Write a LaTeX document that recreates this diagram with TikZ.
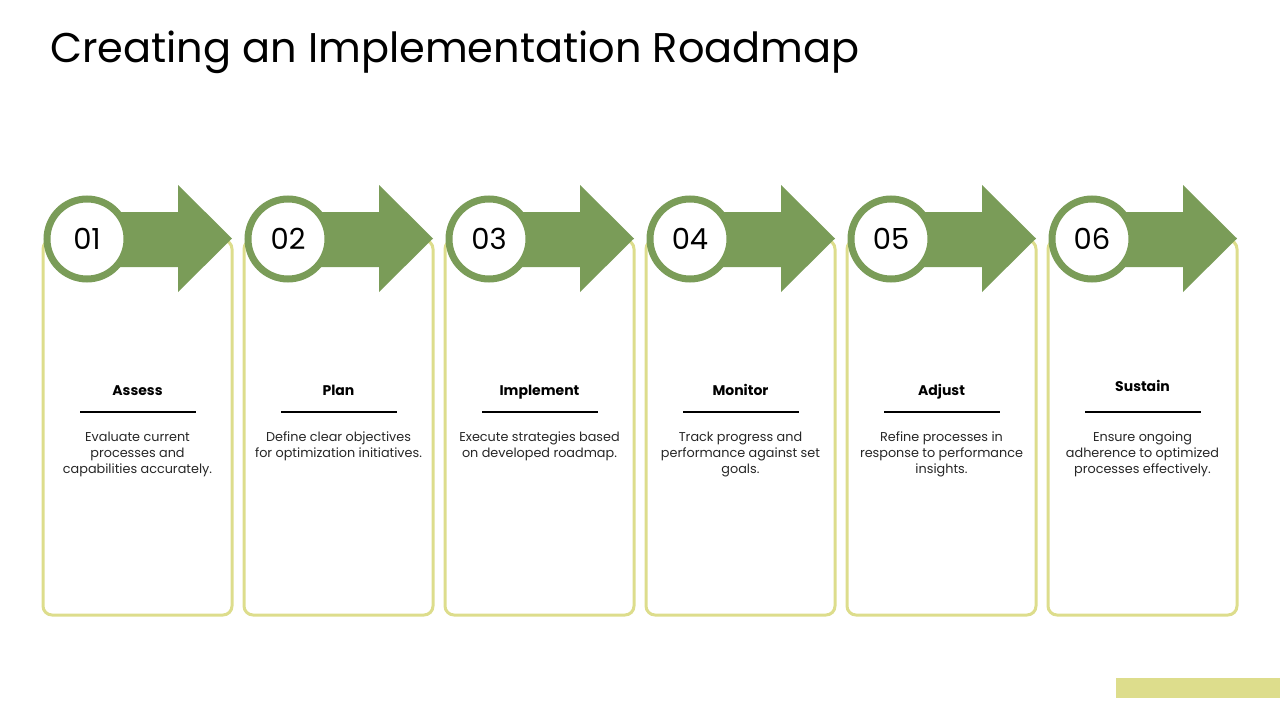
\documentclass[tikz,border=0pt]{standalone}
\usepackage{fontspec}
\setmainfont{Poppins}
\usepackage{xcolor}
\usepackage{tikz}
\usetikzlibrary{positioning}
\definecolor{leaf}{RGB}{122,156,88}
\definecolor{straw}{RGB}{221,221,140}
\tikzset{
  % --- cards -----------------------------------------------------------------
  card/.style={rectangle,draw=straw,line width=3pt,rounded corners=9pt,
               minimum width=189pt,minimum height=375pt,inner sep=0pt},
  badge/.style={circle,draw=leaf,line width=7pt,fill=white,minimum size=80pt,
                inner sep=0pt,font=\fontsize{29}{31}\selectfont},
  pointer/.style={fill=leaf},
  % --- texts -----------------------------------------------------------------
  head/.style={font=\fontsize{14}{16}\selectfont\bfseries,inner sep=0pt,
               anchor=base},
  rule/.style={line width=1.1pt,black},
  desc/.style={font=\fontsize{12.8}{16}\selectfont,align=center,inner sep=0pt,
               text=black!85,anchor=north},
  title/.style={font=\fontsize{41.5}{44}\selectfont,anchor=base west,inner sep=0pt},
}
\begin{document}
\begin{tikzpicture}[x=1pt, y=-1pt]
  \useasboundingbox (0,0) rectangle (1280,720);
  \node[title] (ttl) at (50,62) {Creating an Implementation Roadmap};

  % card 01
  \node[card] (c1) at (137.5,427.5) {};
  \fill[pointer] (87,212) -- (178,212) -- (178,185) -- (232,238.5)
                 -- (178,292) -- (178,267) -- (87,267) -- cycle;
  \node[badge] (n1) at (87,239) {01};
  \node[head] (h1) at (137.5,395) {Assess};
  \draw[rule] (80,412) -- (196,412);
  \node[desc] (d1) at (137.5,432)
    {Evaluate current\\processes and\\capabilities accurately.};

  % card 02
  \node[card] (c2) at (338.5,427.5) {};
  \fill[pointer] (288,212) -- (379,212) -- (379,185) -- (433,238.5)
                 -- (379,292) -- (379,267) -- (288,267) -- cycle;
  \node[badge] (n2) at (288,239) {02};
  \node[head] (h2) at (338.5,395) {Plan};
  \draw[rule] (281,412) -- (397,412);
  \node[desc] (d2) at (338.5,432)
    {Define clear objectives\\for optimization initiatives.};

  % card 03
  \node[card] (c3) at (539.5,427.5) {};
  \fill[pointer] (489,212) -- (580,212) -- (580,185) -- (634,238.5)
                 -- (580,292) -- (580,267) -- (489,267) -- cycle;
  \node[badge] (n3) at (489,239) {03};
  \node[head] (h3) at (539.5,395) {Implement};
  \draw[rule] (482,412) -- (598,412);
  \node[desc] (d3) at (539.5,432)
    {Execute strategies based\\on developed roadmap.};

  % card 04
  \node[card] (c4) at (740.5,427.5) {};
  \fill[pointer] (690,212) -- (781,212) -- (781,185) -- (835,238.5)
                 -- (781,292) -- (781,267) -- (690,267) -- cycle;
  \node[badge] (n4) at (690,239) {04};
  \node[head] (h4) at (740.5,395) {Monitor};
  \draw[rule] (683,412) -- (799,412);
  \node[desc] (d4) at (740.5,432)
    {Track progress and\\performance against set\\goals.};

  % card 05
  \node[card] (c5) at (941.5,427.5) {};
  \fill[pointer] (891,212) -- (982,212) -- (982,185) -- (1036,238.5)
                 -- (982,292) -- (982,267) -- (891,267) -- cycle;
  \node[badge] (n5) at (891,239) {05};
  \node[head] (h5) at (941.5,395) {Adjust};
  \draw[rule] (884,412) -- (1000,412);
  \node[desc] (d5) at (941.5,432)
    {Refine processes in\\response to performance\\insights.};

  % card 06
  \node[card] (c6) at (1142.5,427.5) {};
  \fill[pointer] (1092,212) -- (1183,212) -- (1183,185) -- (1237,238.5)
                 -- (1183,292) -- (1183,267) -- (1092,267) -- cycle;
  \node[badge] (n6) at (1092,239) {06};
  \node[head] (h6) at (1142.5,391) {Sustain};
  \draw[rule] (1085,412) -- (1201,412);
  \node[desc] (d6) at (1142.5,432)
    {Ensure ongoing\\adherence to optimized\\processes effectively.};

  % corner bar
  \fill[straw] (1116,678) rectangle (1280,698);
\end{tikzpicture}
\end{document}
